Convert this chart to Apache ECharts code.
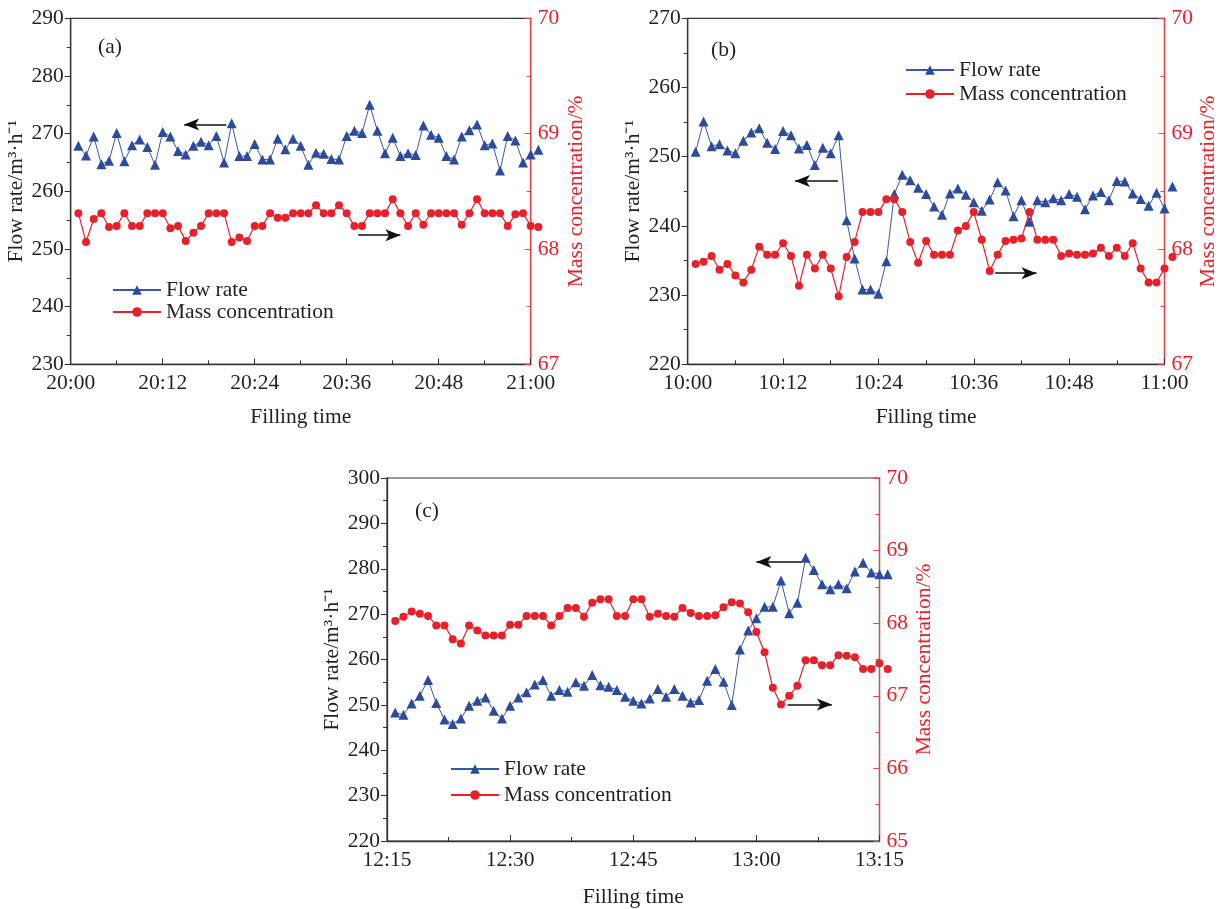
<!DOCTYPE html>
<html>
<head>
<meta charset="utf-8">
<script src="https://cdn.jsdelivr.net/npm/echarts@6/dist/echarts.min.js"></script>
<style>
html,body{margin:0;padding:0;background:#fff;}
#chart{width:1225px;height:909px;}
</style>
</head>
<body>
<div id="chart"></div>
<script>
// sample times, minutes after the start of each hour window
const sampleMinute = [1,2,3,4,5,6,7,8,9,10,11,12,13,14,15,16,17,18,19,20,
  21,22,23,24,25,26,27,28,29,30,31,32,33,34,35,36,37,38,39,40,
  41,42,43,44,45,46,47,48,49,50,51,52,53,54,55,56,57,58,59,60,61];

const ticksA = ['20:00','20:12','20:24','20:36','20:48','21:00'];
const ticksB = ['10:00','10:12','10:24','10:36','10:48','11:00'];
const ticksC = ['12:15','12:30','12:45','13:00','13:15'];

const flowA = [267.9,266.2,269.5,264.7,265.3,270.1,265.2,268.0,269.0,267.7,
  264.6,270.3,269.5,267.0,266.4,267.9,268.6,268.0,269.6,265.0,
  271.8,266.1,266.1,268.2,265.5,265.5,269.1,267.3,269.1,267.9,
  264.6,266.7,266.5,265.6,265.5,269.6,270.5,270.1,275.0,270.5,
  266.6,269.3,266.1,266.6,266.3,271.4,269.8,269.3,266.1,265.5,
  269.5,270.6,271.6,268.0,268.3,263.6,269.6,268.8,265.0,266.4,267.2];
const massA = [68.31,68.06,68.26,68.31,68.19,68.20,68.31,68.20,68.20,68.31,
  68.31,68.31,68.18,68.20,68.07,68.14,68.20,68.31,68.31,68.31,
  68.06,68.10,68.07,68.20,68.20,68.31,68.27,68.27,68.31,68.31,
  68.31,68.38,68.31,68.31,68.38,68.31,68.20,68.20,68.31,68.31,
  68.31,68.43,68.31,68.20,68.31,68.21,68.31,68.31,68.31,68.31,
  68.21,68.31,68.43,68.31,68.31,68.31,68.20,68.30,68.31,68.20,68.19];

const flowB = [250.7,255.1,251.5,251.8,250.9,250.5,252.3,253.5,254.1,252.0,
  251.1,253.7,253.1,251.2,251.7,248.8,251.3,250.5,253.1,240.8,
  235.3,230.8,230.8,230.2,234.9,244.6,247.4,246.6,245.5,244.6,
  242.8,241.6,244.7,245.4,244.5,243.4,242.2,243.8,246.3,245.1,
  241.4,243.7,240.6,243.7,243.4,244.0,243.7,244.6,244.2,242.4,
  244.4,244.9,243.7,246.5,246.4,244.7,243.9,242.9,244.8,242.5,245.7];
const massB = [67.87,67.89,67.94,67.82,67.87,67.77,67.71,67.82,68.02,67.95,
  67.95,68.05,67.94,67.68,67.95,67.83,67.95,67.83,67.59,67.93,
  68.06,68.32,68.32,68.32,68.43,68.43,68.32,68.06,67.88,68.07,
  67.95,67.95,67.95,68.16,68.20,68.32,68.08,67.81,67.95,68.07,
  68.08,68.09,68.32,68.08,68.08,68.08,67.94,67.96,67.95,67.95,
  67.96,68.01,67.94,68.01,67.94,68.05,67.83,67.71,67.71,67.83,67.93];

const flowC = [248.3,247.8,250.3,252.0,255.5,250.4,246.8,245.8,247.0,249.8,
  250.9,251.6,248.7,247.0,249.8,251.6,252.8,254.5,255.5,252.0,
  253.3,252.9,255.0,254.2,256.6,254.3,254.0,253.3,251.8,250.9,
  250.3,251.4,253.5,251.8,253.5,252.0,250.5,251.1,255.3,257.9,
  255.1,250.0,262.2,266.4,269.1,271.6,271.6,277.4,270.2,272.5,
  282.4,279.7,276.6,275.5,276.6,275.7,279.4,281.3,279.2,278.8,278.8];
const massC = [68.03,68.09,68.16,68.13,68.10,67.97,67.97,67.78,67.72,67.97,
  67.90,67.83,67.83,67.83,67.98,67.98,68.10,68.10,68.10,67.97,
  68.10,68.21,68.21,68.09,68.28,68.33,68.33,68.10,68.10,68.33,
  68.33,68.09,68.13,68.10,68.09,68.21,68.14,68.10,68.10,68.11,
  68.22,68.29,68.27,68.15,67.88,67.60,67.11,66.88,67.00,67.14,
  67.49,67.49,67.42,67.42,67.56,67.55,67.53,67.37,67.37,67.45,67.37];

// direction arrows [xStart, yStart, xEnd, yEnd] in data units
const arrowFlowA = [20.3, 271.6, 14.8, 271.6];
const arrowMassA = [37.5, 68.12, 43.0, 68.12];
const arrowFlowB = [18.9, 246.5, 13.5, 246.5];
const arrowMassB = [38.7, 67.79, 43.9, 67.79];
const arrowFlowC = [50.5, 281.5, 45.0, 281.5];
const arrowMassC = [48.8, 66.88, 54.2, 66.88];

const FONT = "'Liberation Serif','Times New Roman',serif";
const FS = 21.5;
const BLUE = '#3a58a8';
const BLUE_M = '#2d4b9c';
const RED = '#e8202a';
const RED_AX = '#ee4040';
const DARK = '#231f20';

function pairs(xs, ys){ return ys.map((v,i)=>[xs[i], v]); }

function xAxis(gi, ticks, interval){
  return {
    type:'value', gridIndex:gi, min:0, max:60, interval:interval,
    name:'Filling time', nameLocation:'middle', nameGap: gi===2 ? 45 : 42,
    nameTextStyle:{fontFamily:FONT, fontSize:FS, color:DARK},
    axisLine:{show:true, lineStyle:{color:'#333', width:1.3}},
    axisTick:{show:true, inside:true, length:6, lineStyle:{color:'#333'}},
    minorTick:{show:true, splitNumber:2, length:4, lineStyle:{color:'#333'}},
    splitLine:{show:false},
    axisLabel:{fontFamily:FONT, fontSize:FS, color:DARK, margin:8,
      formatter:(v)=>ticks[Math.round(v/interval)]}
  };
}
function yLeft(gi, min, max, gap){
  return {
    type:'value', gridIndex:gi, position:'left', min:min, max:max, interval:10,
    name:'Flow rate/m³·h⁻¹', nameLocation:'middle', nameGap:gap, nameRotate:90,
    nameTextStyle:{fontFamily:FONT, fontSize:FS, color:DARK},
    axisLine:{show:true, lineStyle:{color:'#333', width:1.3}},
    axisTick:{show:true, inside:false, length:6, lineStyle:{color:'#333'}},
    minorTick:{show:true, splitNumber:2, length:4, lineStyle:{color:'#333'}},
    splitLine:{show:false},
    axisLabel:{fontFamily:FONT, fontSize:FS, color:DARK, margin:7}
  };
}
function yRight(gi, min, max, gap){
  return {
    type:'value', gridIndex:gi, position:'right', min:min, max:max, interval:1,
    name:'Mass concentration/%', nameLocation:'middle', nameGap:gap, nameRotate:90,
    nameTextStyle:{fontFamily:FONT, fontSize:FS, color:RED},
    axisLine:{show:true, lineStyle:{color:RED_AX, width:1.3}},
    axisTick:{show:true, inside:true, length:6, lineStyle:{color:RED_AX}},
    minorTick:{show:true, splitNumber:2, length:4, lineStyle:{color:RED_AX}},
    splitLine:{show:false},
    axisLabel:{fontFamily:FONT, fontSize:FS, color:RED, margin:7}
  };
}
function arrow(a){
  return {
    silent:true, symbol:['none','arrow'], symbolSize:[9,15],
    lineStyle:{color:'#111', type:'solid', width:1.5},
    label:{show:false},
    data:[[{coord:[a[0],a[1]]},{coord:[a[2],a[3]]}]]
  };
}
function flowSeries(gi, ys, arr){
  return {
    name:'Flow rate', type:'line', xAxisIndex:gi, yAxisIndex:gi*2,
    data:pairs(sampleMinute, ys), clip:false,
    symbol:'triangle', symbolSize:10, showAllSymbol:true,
    lineStyle:{color:BLUE, width:1}, itemStyle:{color:BLUE_M},
    markLine:arrow(arr), z:3
  };
}
function massSeries(gi, ys, arr){
  return {
    name:'Mass concentration', type:'line', xAxisIndex:gi, yAxisIndex:gi*2+1,
    data:pairs(sampleMinute, ys), clip:false,
    symbol:'circle', symbolSize:8, showAllSymbol:true,
    lineStyle:{color:RED, width:1.2}, itemStyle:{color:RED},
    markLine:arrow(arr), z:3
  };
}
function legend(left, top, gap){
  return {
    orient:'vertical', left:left, top:top, itemWidth:48, itemHeight:12, itemGap:gap,
    padding:0, textStyle:{fontFamily:FONT, fontSize:FS, color:DARK},
    data:['Flow rate','Mass concentration']
  };
}
const gridStyle = {show:true, borderColor:'#333', borderWidth:1.2, backgroundColor:'transparent'};

const option = {
  animation:false,
  backgroundColor:'#fff',
  title:[
    {text:'(a)', left:93, top:31, textStyle:{fontFamily:FONT, fontSize:FS, fontWeight:'normal', color:DARK}},
    {text:'(b)', left:706, top:34, textStyle:{fontFamily:FONT, fontSize:FS, fontWeight:'normal', color:DARK}},
    {text:'(c)', left:410, top:495, textStyle:{fontFamily:FONT, fontSize:FS, fontWeight:'normal', color:DARK}}
  ],
  legend:[legend(112, 279, 0), legend(905, 59, 2), legend(450, 758, 4)],
  grid:[
    Object.assign({left:70.7, top:18.3, width:460, height:346}, gridStyle),
    Object.assign({left:687.7, top:18.3, width:476.8, height:346}, gridStyle),
    Object.assign({left:387, top:478, width:492.5, height:363}, gridStyle)
  ],
  xAxis:[xAxis(0, ticksA, 12), xAxis(1, ticksB, 12), xAxis(2, ticksC, 15)],
  yAxis:[
    yLeft(0, 230, 290, 40), yRight(0, 67, 70, 35),
    yLeft(1, 220, 270, 42), yRight(1, 67, 70, 33),
    yLeft(2, 220, 300, 43), yRight(2, 65, 70, 34)
  ],
  series:[
    flowSeries(0, flowA, arrowFlowA), massSeries(0, massA, arrowMassA),
    flowSeries(1, flowB, arrowFlowB), massSeries(1, massB, arrowMassB),
    flowSeries(2, flowC, arrowFlowC), massSeries(2, massC, arrowMassC)
  ]
};
const chart = echarts.init(document.getElementById('chart'), null, {renderer:'canvas'});
chart.setOption(option);
</script>
</body>
</html>
